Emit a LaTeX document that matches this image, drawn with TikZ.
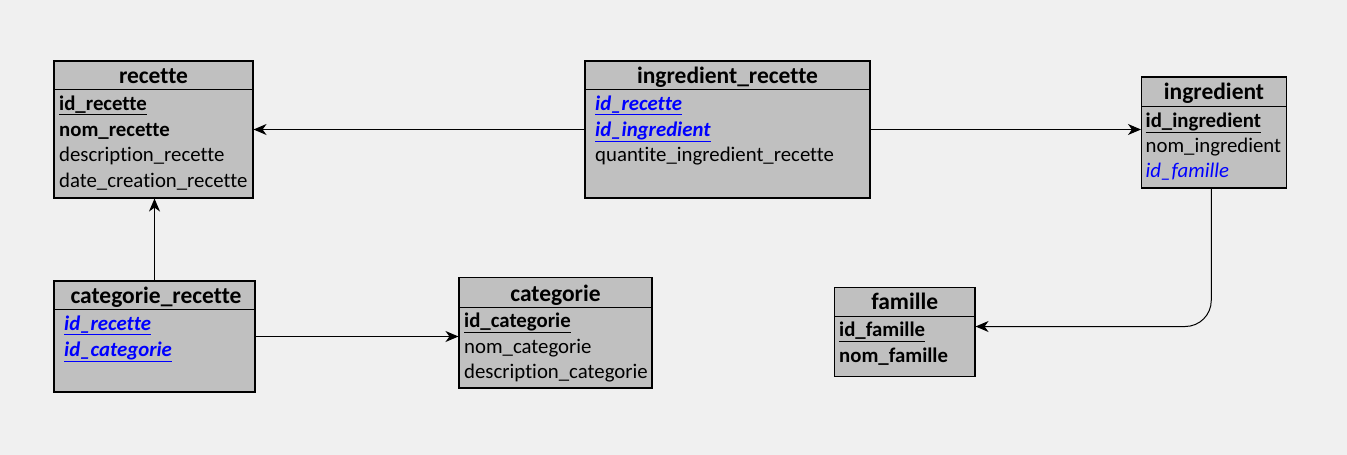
\documentclass[tikz,border=0pt]{standalone}
\usepackage{fontspec}
\setmainfont[Ligatures=NoCommon]{Carlito}
\usetikzlibrary{arrows.meta}
\definecolor{bgc}{HTML}{F0F0F0}
\definecolor{tblc}{HTML}{C0C0C0}
\definecolor{fkc}{HTML}{0000FF}
\begin{document}
\begin{tikzpicture}[x=1pt,y=-1pt,
  tbl/.style={draw=black, line width=1.1pt, fill=tblc, inner sep=0pt, rectangle},
  hline/.style={line width=1pt},
  hdr/.style={inner sep=0pt, anchor=base, font=\fontsize{23.5}{28}\selectfont\bfseries},
  fld/.style={inner sep=0pt, anchor=base west, font=\fontsize{20.8}{25}\selectfont},
  pk/.style={fld, font=\fontsize{20.8}{25}\selectfont\bfseries},
  fk/.style={fld, text=fkc, font=\fontsize{20.8}{25}\selectfont\bfseries\itshape},
  fkp/.style={fld, text=fkc, font=\fontsize{20.8}{25}\selectfont\itshape},
  conn/.style={line width=1pt, -{Stealth[length=13pt,width=11pt,inset=4pt]}}
]
\useasboundingbox (0,0) rectangle (1347,455);
\fill[bgc] (0,0) rectangle (1347,455);

% recette
\node[tbl, minimum width=199pt, minimum height=137pt] (recette) at (153.5,129.5) {};
\draw[hline] (54,89.5) -- (253,89.5);
\node[hdr] (recetteT) at (153.5,83.5) {recette};
\node[pk] (r1) at (59,110) {\underline{id\_recette}};
\node[pk] (r2) at (59,136) {nom\_recette};
\node[fld] (r3) at (59,161.5) {description\_recette};
\node[fld] (r4) at (59,187) {date\_creation\_recette};

% ingredient_recette
\node[tbl, minimum width=285pt, minimum height=137pt] (ir) at (727.5,129.5) {};
\draw[hline] (585,89.5) -- (870,89.5);
\node[hdr] (irT) at (727.5,83) {ingredient\_recette};
\node[fk] (ir1) at (595,110) {\underline{id\_recette}};
\node[fk] (ir2) at (595,136) {\underline{id\_ingredient}};
\node[fld] (ir3) at (595,161.5) {quantite\_ingredient\_recette};

% ingredient
\node[tbl, minimum width=145pt, minimum height=111pt] (ingredient) at (1214,132.5) {};
\draw[hline] (1141.5,106.5) -- (1286.5,106.5);
\node[hdr] (ingT) at (1214,99.5) {ingredient};
\node[pk] (i1) at (1145.5,127) {\underline{id\_ingredient}};
\node[fld] (i2) at (1145.5,152) {nom\_ingredient};
\node[fkp] (i3) at (1145.5,177.5) {id\_famille};

% categorie_recette
\node[tbl, minimum width=201pt, minimum height=111pt] (cr) at (154.5,336.5) {};
\draw[hline] (54,309.5) -- (255,309.5);
\node[hdr] (crT) at (156,303) {categorie\_recette};
\node[fk] (cr1) at (64,330) {\underline{id\_recette}};
\node[fk] (cr2) at (64,356) {\underline{id\_categorie}};

% categorie
\node[tbl, minimum width=193pt, minimum height=110.5pt] (categorie) at (555.5,332.75) {};
\draw[hline] (459,307) -- (652,307);
\node[hdr] (catT) at (555.5,301) {categorie};
\node[pk] (c1) at (464,327.5) {\underline{id\_categorie}};
\node[fld] (c2) at (464,353) {nom\_categorie};
\node[fld] (c3) at (464,378.5) {description\_categorie};

% famille
\node[tbl, minimum width=140.5pt, minimum height=89pt] (famille) at (904.75,332) {};
\draw[hline] (834.5,316) -- (975,316);
\node[hdr] (famT) at (904.75,309.5) {famille};
\node[pk] (f1) at (839,336.5) {\underline{id\_famille}};
\node[pk] (f2) at (839,362) {nom\_famille};

% connectors
\draw[conn] (ir.west) -- (recette.east);
\draw[conn] (ir.east) -- (ir.east -| ingredient.west);
\draw[conn] (cr.north) -- (cr.north |- recette.south);
\draw[conn] (cr.east) -- (cr.east -| categorie.west);
\coordinate (ingS) at ([xshift=-2.75pt]ingredient.south);
\coordinate (famE) at ([yshift=5.5pt]famille.east);
\draw[conn, rounded corners=26pt] (ingS) |- (famE);
\end{tikzpicture}
\end{document}
